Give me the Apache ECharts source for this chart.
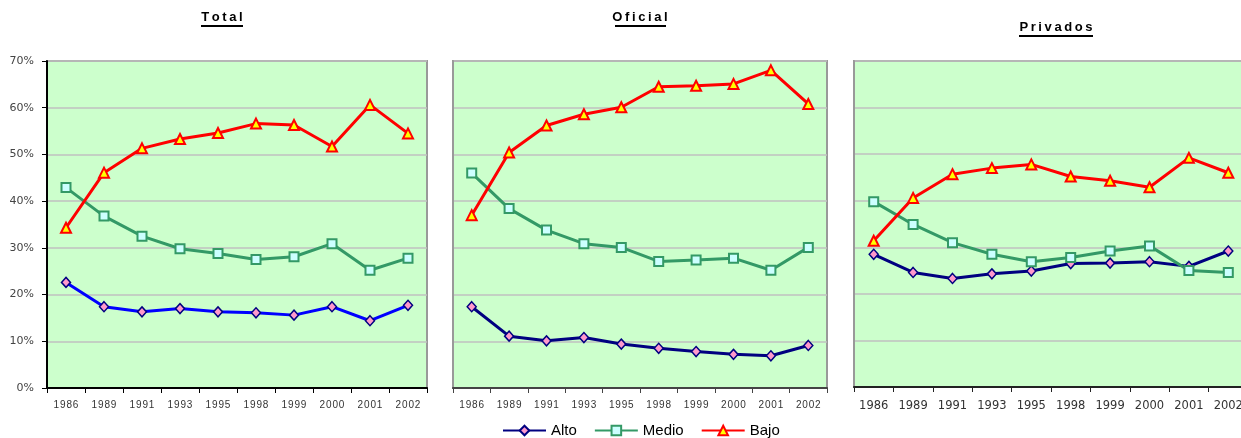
<!DOCTYPE html>
<html><head><meta charset="utf-8">
<script src="https://cdn.jsdelivr.net/npm/echarts@6/dist/echarts.min.js"></script>
<style>html,body{margin:0;padding:0;background:#fff;overflow:hidden}#c{width:1252px;height:438px}</style>
</head><body><div id="c"></div>
<script>
// ---- data ----
const years = ['1986','1989','1991','1993','1995','1998','1999','2000','2001','2002'];
const yTicks = [0,10,20,30,40,50,60,70];
const panelTitles = ['Total','Oficial','Privados'];
const seriesNames = ['Alto','Medio','Bajo'];

const totalAlto  = [22.6,17.4,16.3,17.0,16.3,16.1,15.6,17.4,14.4,17.7];
const totalMedio = [42.9,36.8,32.5,29.8,28.8,27.5,28.1,30.9,25.2,27.8];
const totalBajo  = [34.3,46.1,51.3,53.3,54.6,56.6,56.3,51.7,60.6,54.5];

const oficialAlto  = [17.4,11.1,10.1,10.8,9.4,8.5,7.8,7.2,6.9,9.1];
const oficialMedio = [46.0,38.4,33.8,30.9,30.1,27.1,27.4,27.8,25.2,30.1];
const oficialBajo  = [37.0,50.4,56.2,58.6,60.1,64.5,64.7,65.1,68.0,60.8];

const privAlto  = [28.5,24.6,23.3,24.3,24.9,26.5,26.6,26.9,25.9,29.2];
const privMedio = [39.8,34.9,31.0,28.5,26.9,27.8,29.2,30.3,25.0,24.6];
const privBajo  = [31.4,40.6,45.7,47.0,47.8,45.2,44.3,42.9,49.2,46.0];

// ---- styles ----
const altoNavy = '#000080', altoBlue = '#0000FF';
const medioCol = '#339966', bajoCol = '#FF0000';
const panels = [
  {left:47, top:61, width:380, height:327, data:[totalAlto,totalMedio,totalBajo], altoLine:altoBlue,
   yLine:'#000', xLine:'#000', yLabels:true, xFont:{fontSize:10, fontFamily:'Liberation Sans', spaced:true, margin:12}},
  {left:453, top:61, width:374, height:327, data:[oficialAlto,oficialMedio,oficialBajo], altoLine:altoNavy,
   yLine:'#999', xLine:'#444', yLabels:false, xFont:{fontSize:10, fontFamily:'Liberation Sans', spaced:true, margin:12}},
  {left:854, top:61, width:394, height:326, data:[privAlto,privMedio,privBajo], altoLine:altoNavy,
   yLine:'#999', xLine:'#222', yLabels:false, xFont:{fontSize:11.5, fontFamily:'DejaVu Sans', spaced:false, margin:13}}
];

const grid = [], xAxis = [], yAxis = [], series = [];
panels.forEach((p, i) => {
  grid.push({left:p.left, top:p.top, width:p.width, height:p.height, show:true,
    backgroundColor:'#CCFFCC', borderColor:'#999', borderWidth:2, containLabel:false});
  xAxis.push({type:'category', gridIndex:i, data:years, boundaryGap:true,
    axisLine:{lineStyle:{color:p.xLine, width:2}},
    axisTick:{show:true, length:5, lineStyle:{color:p.xLine, width:1}},
    axisLabel:{fontSize:p.xFont.fontSize, fontFamily:p.xFont.fontFamily, color:'#333', margin:p.xFont.margin,
      formatter: v => p.xFont.spaced ? v.split('').join('\u200A') : v},
    splitLine:{show:false}});
  yAxis.push({type:'value', gridIndex:i, min:yTicks[0], max:yTicks[yTicks.length-1], interval:yTicks[1]-yTicks[0],
    axisLine:{show:true, lineStyle:{color:p.yLine, width:2}},
    axisTick:{show:p.yLabels, length:5, lineStyle:{color:'#000'}},
    axisLabel:{show:p.yLabels, formatter:'{value}%', fontSize:11, fontFamily:'DejaVu Sans', color:'#444', margin:13},
    splitLine:{show:true, lineStyle:{color:'#C0C0C0', width:1.5}}});
  const [a, m, b] = p.data;
  series.push({name:'Alto', type:'line', xAxisIndex:i, yAxisIndex:i, data:a,
    lineStyle:{color:p.altoLine, width:3}, symbol:'diamond', symbolSize:[9,10],
    itemStyle:{color:'#FF99CC', borderColor:altoNavy, borderWidth:1.5}, emphasis:{disabled:true}});
  series.push({name:'Medio', type:'line', xAxisIndex:i, yAxisIndex:i, data:m,
    lineStyle:{color:medioCol, width:3}, symbol:'rect', symbolSize:9,
    itemStyle:{color:'#CCFFFF', borderColor:medioCol, borderWidth:2}, emphasis:{disabled:true}});
  series.push({name:'Bajo', type:'line', xAxisIndex:i, yAxisIndex:i, data:b,
    lineStyle:{color:bajoCol, width:3}, symbol:'triangle', symbolSize:10,
    itemStyle:{color:'#FFFF00', borderColor:bajoCol, borderWidth:2}, emphasis:{disabled:true}});
});

const spaced = s => s.split('').join('\u2009');
const titlePos = [{x:222, y:17, ul:[201,243,26]}, {x:640, y:17, ul:[615,666,26]}, {x:1056, y:27, ul:[1019,1093,36]}];
const graphic = [];
panelTitles.forEach((t, i) => {
  const tp = titlePos[i];
  graphic.push({type:'text', x:tp.x, y:tp.y, style:{text:spaced(t), font:'bold 13px "Liberation Sans"', fill:'#000',
    textAlign:'center', textVerticalAlign:'middle'}});
  graphic.push({type:'line', shape:{x1:tp.ul[0], y1:tp.ul[2], x2:tp.ul[1], y2:tp.ul[2]}, style:{stroke:'#000', lineWidth:2}});
});

const chart = echarts.init(document.getElementById('c'), null, {renderer:'canvas'});
chart.setOption({
  animation:false,
  backgroundColor:'#fff',
  grid, xAxis, yAxis, series, graphic,
  legend:{left:497, top:418, itemWidth:43, itemHeight:12, itemGap:17,
    textStyle:{fontSize:15, fontFamily:'Liberation Sans', color:'#000'},
    data:[
      {name:'Alto', lineStyle:{color:altoNavy}, itemStyle:{color:'#FF99CC', borderColor:altoNavy}},
      {name:'Medio'},
      {name:'Bajo'}
    ]}
});
</script></body></html>
